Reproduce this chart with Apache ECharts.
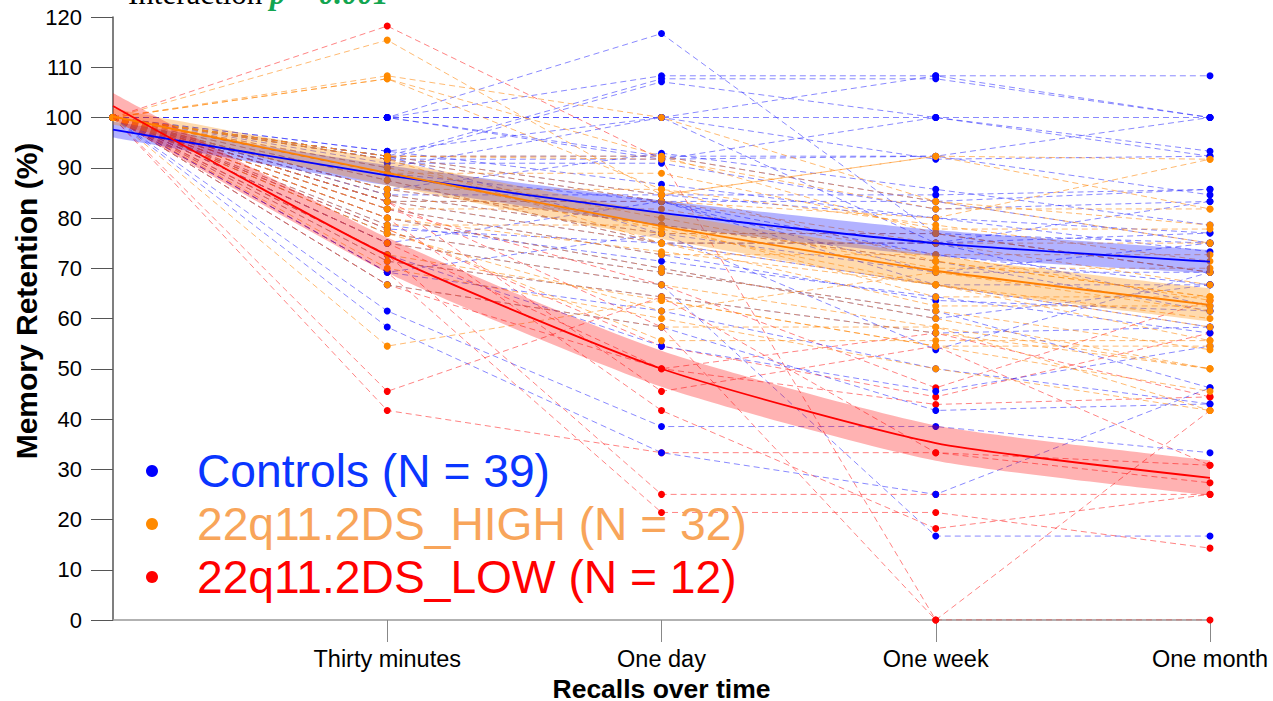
<!DOCTYPE html>
<html><head><meta charset="utf-8">
<script src="https://cdn.jsdelivr.net/npm/echarts@6/dist/echarts.min.js"></script>
<style>html,body{margin:0;padding:0;background:#fff;overflow:hidden}#c{width:1273px;height:701px}</style>
</head><body><div id="c"></div>
<script>
// ---- data ----
const timeLabels = ['', 'Thirty minutes', 'One day', 'One week', 'One month'];
const yTicks = [0, 10, 20, 30, 40, 50, 60, 70, 80, 90, 100, 110, 120];
const groupNames = ['Controls (N = 39)', '22q11.2DS_HIGH (N = 32)', '22q11.2DS_LOW (N = 12)'];

// individual subjects: [start, 30 min, 1 day, 1 week, 1 month]
const controls = [
  [100, 100, 100, 100, 100],
  [100, 100, 116.7, 76.9, 75],
  [100, 100, 108.3, 108.3, 108.3],
  [100, 92.3, 107.7, 107.7, 100],
  [100, 91.7, 107.1, 100, 93.3],
  [100, 93.3, 100, 91.7, 92.3],
  [100, 92.3, 92.3, 83.3, 85.7],
  [100, 91.7, 91.7, 92.3, 84.6],
  [100, 90, 100, 75, 83.3],
  [100, 84.6, 84.6, 80, 77],
  [100, 83.3, 83.3, 83.3, 75],
  [100, 92.3, 76.9, 76.9, 69.2],
  [100, 88.9, 83.3, 72.7, 66.7],
  [100, 85.7, 78.6, 71.4, 61.5],
  [100, 77.8, 75, 66.7, 58.3],
  [100, 76.9, 69.2, 61.5, 46.2],
  [100, 75, 66.7, 16.7, 16.7],
  [100, 61.5, 38.5, 38.5, 33.3],
  [100, 58.3, 33.3, 25, 46.2],
  [100, 69.2, 61.5, 50, 43],
  [100, 71.4, 64.3, 57.1, 58.3],
  [100, 80, 70, 60, 66.7],
  [100, 66.7, 58.3, 41.7, 43],
  [100, 100, 91.7, 100, 92.3],
  [100, 92.3, 84.6, 84.6, 85.7],
  [100, 83.3, 75, 75, 77],
  [100, 75, 83.3, 69.2, 69.2],
  [100, 90.9, 90.9, 81.8, 83.3],
  [100, 84.6, 76.9, 69.2, 75],
  [100, 81.8, 72.7, 63.6, 61.5],
  [100, 100, 92.3, 92.3, 100],
  [100, 93.3, 86.7, 80, 73.3],
  [100, 78.6, 71.4, 64.3, 57.1],
  [100, 87.5, 75, 75, 62.5],
  [100, 91.7, 83.3, 66.7, 66.7],
  [100, 85.7, 92.9, 85.7, 78.6],
  [100, 72.7, 54.5, 45.5, 54.5],
  [100, 100, 100, 108.3, 100],
  [100, 69.2, 76.9, 53.8, 69.2]
];
const high = [
  [100, 115.4, 84.6, 92.3, 91.7],
  [100, 108.3, 100, 83.3, 75],
  [100, 107.7, 92.3, 76.9, 69.2],
  [100, 92.3, 84.6, 92.3, 81.8],
  [100, 91.7, 83.3, 80, 91.7],
  [100, 90, 80, 70, 70],
  [100, 88.9, 77.8, 66.7, 55.6],
  [100, 85.7, 85.7, 78.6, 71.4],
  [100, 83.3, 75, 66.7, 58.3],
  [100, 81.8, 72.7, 72.7, 63.6],
  [100, 80, 70, 60, 50],
  [100, 78.6, 78.6, 64.3, 64.3],
  [100, 76.9, 69.2, 61.5, 53.8],
  [100, 75, 66.7, 58.3, 41.7],
  [100, 72.7, 63.6, 54.5, 45.5],
  [100, 66.7, 58.3, 58.3, 50],
  [100, 54.5, 63.6, 54.5, 54.5],
  [100, 92.3, 92.3, 83.3, 78.6],
  [100, 85.7, 78.6, 71.4, 64.3],
  [100, 83.3, 83.3, 75, 75],
  [100, 91.7, 75, 75, 66.7],
  [100, 92.3, 91.7, 81.8, 81.8],
  [100, 87.5, 75, 62.5, 62.5],
  [100, 80, 73.3, 66.7, 60],
  [100, 76.9, 61.5, 69.2, 61.5],
  [100, 70, 60, 50, 41.7],
  [100, 84.6, 76.9, 76.9, 69.2],
  [100, 77.8, 55.6, 55.6, 55.6],
  [100, 88.9, 88.9, 77.8, 77.8],
  [100, 107.7, 85.7, 71.4, 64.3],
  [100, 81.8, 81.8, 72.7, 72.7],
  [100, 71.4, 64.3, 57.1, 50]
];
const low = [
  [100, 118.2, 91.7, 0, 41.7],
  [100, 83.3, 58.3, 0, 0],
  [100, 81.8, 66.7, 46.2, 63.6],
  [100, 77.8, 54.5, 44.4, 57.1],
  [100, 75, 50, 42.9, 44.4],
  [100, 45.5, 64.3, 33.3, 30.8],
  [100, 41.7, 33.3, 33.3, 27.3],
  [100, 72.7, 25, 25, 25],
  [100, 69.2, 21.4, 21.4, 14.3],
  [100, 66.7, 50, 57.1, 44.4],
  [100, 80, 41.7, 18.2, 25],
  [100, 83.3, 45.5, 54.5, 30.8]
];

// group means and half-width of the shaded band
const controlsMean = [97.6, 88.5, 81.0, 75.0, 71.3];
const controlsHalf = [1.6, 2.0, 2.5, 2.6, 2.3];
const highMean = [100.2, 89.0, 78.4, 69.5, 62.7];
const highHalf = [1.6, 2.5, 2.6, 3.0, 3.3];
const lowMean = [102.3, 72.6, 50.0, 35.2, 28.3];
const lowHalf = [2.6, 3.5, 3.6, 3.5, 3.5];

// ---- styles ----
const C = {
  ctrl: { line: 'rgba(40,40,255,0.55)', dot: '#0000ff', band: 'rgba(0,0,255,0.30)', mean: '#0000ff', text: '#0a36ff' },
  high: { line: 'rgba(255,140,20,0.6)', dot: '#ff8a00', band: 'rgba(255,140,0,0.32)', mean: '#ff8000', text: '#f8a55a' },
  low:  { line: 'rgba(255,30,30,0.55)', dot: '#ff0000', band: 'rgba(255,0,0,0.30)', mean: '#ff0000', text: '#ff0000' }
};
const SMOOTH = 0.2;

const series = [];
function addSubjects(rows, c) {
  rows.forEach(r => {
    series.push({
      type: 'line', silent: true, z: 1,
      data: r.slice(),
      symbol: 'circle', symbolSize: 7, showSymbol: true,
      itemStyle: { color: c.dot },
      lineStyle: { color: c.line, width: 1, type: [6, 4] },
      emphasis: { disabled: true }
    });
  });
}
addSubjects(low, C.low);
addSubjects(controls, C.ctrl);
addSubjects(high, C.high);

function addMean(name, mean, half, c, key) {
  series.push({
    type: 'line', silent: true, z: 3, stack: 'band' + key, smooth: SMOOTH,
    data: mean.map((m, i) => m - half[i]),
    symbol: 'none', lineStyle: { opacity: 0 }
  });
  series.push({
    type: 'line', silent: true, z: 3, stack: 'band' + key, smooth: SMOOTH,
    data: half.map(h => 2 * h),
    symbol: 'none', lineStyle: { opacity: 0 },
    areaStyle: { color: c.band, opacity: 1 }
  });
  series.push({
    name: name, type: 'line', silent: true, z: 4, smooth: SMOOTH,
    data: mean.slice(),
    symbol: 'none', itemStyle: { color: c.dot },
    lineStyle: { color: c.mean, width: 1.8 }
  });
}
addMean(groupNames[0], controlsMean, controlsHalf, C.ctrl, 'c');
addMean(groupNames[1], highMean, highHalf, C.high, 'h');
addMean(groupNames[2], lowMean, lowHalf, C.low, 'l');

const chart = echarts.init(document.getElementById('c'), null, { renderer: 'svg', width: 1273, height: 701 });
chart.setOption({
  animation: false,
  backgroundColor: '#fff',
  grid: { left: 113, right: 63, top: 17, bottom: 81, containLabel: false, outerBoundsMode: 'none' },
  xAxis: {
    type: 'category', data: timeLabels, boundaryGap: false,
    name: 'Recalls over time', nameLocation: 'middle', nameGap: 52,
    nameTextStyle: { fontFamily: 'Liberation Sans', fontWeight: 'bold', fontSize: 26.5, lineHeight: 24, color: '#000' },
    axisLine: { show: true, lineStyle: { color: '#999', width: 1.5 } },
    axisTick: { show: true, interval: (i) => i > 0, length: 22, lineStyle: { color: '#888', width: 1 } },
    axisLabel: { interval: 0, fontFamily: 'Liberation Sans', fontSize: 23.5, color: '#000', margin: 27 },
    splitLine: { show: false }
  },
  yAxis: {
    type: 'value', min: 0, max: 120, interval: 10,
    axisLine: { show: true, lineStyle: { color: '#555', width: 1.5 } },
    axisTick: { show: true, length: 22, lineStyle: { color: '#555', width: 1 } },
    axisLabel: { fontFamily: 'Liberation Sans', fontSize: 22, color: '#000', margin: 31, formatter: v => String(v) },
    splitLine: { show: false }
  },
  legend: {
    orient: 'vertical', left: 141, top: 443, selectedMode: false,
    icon: 'circle', itemWidth: 12, itemHeight: 12, itemGap: 7,
    textStyle: { fontFamily: 'Liberation Sans', fontSize: 46.2, padding: [0, 0, 0, 34] },
    data: [
      { name: groupNames[0], textStyle: { color: C.ctrl.text } },
      { name: groupNames[1], textStyle: { color: C.high.text } },
      { name: groupNames[2], textStyle: { color: C.low.text } }
    ]
  },
  graphic: [{
    type: 'text', left: 128, top: -22, silent: true,
    style: {
      text: '{a|Interaction }{b|p = 0.001}',
      rich: {
        a: { fontFamily: 'Liberation Serif', fontSize: 31, fill: '#000' },
        b: { fontFamily: 'Liberation Serif', fontSize: 31, fontWeight: 'bold', fontStyle: 'italic', fill: '#12a550' }
      }
    }
  }, {
    type: 'text', x: 26, y: 301, rotation: Math.PI / 2, silent: true,
    style: {
      text: 'Memory Retention (%)', align: 'center', verticalAlign: 'middle',
      fontFamily: 'Liberation Sans', fontWeight: 'bold', fontSize: 30, fill: '#000'
    }
  }],
  series: series
});
</script></body></html>
